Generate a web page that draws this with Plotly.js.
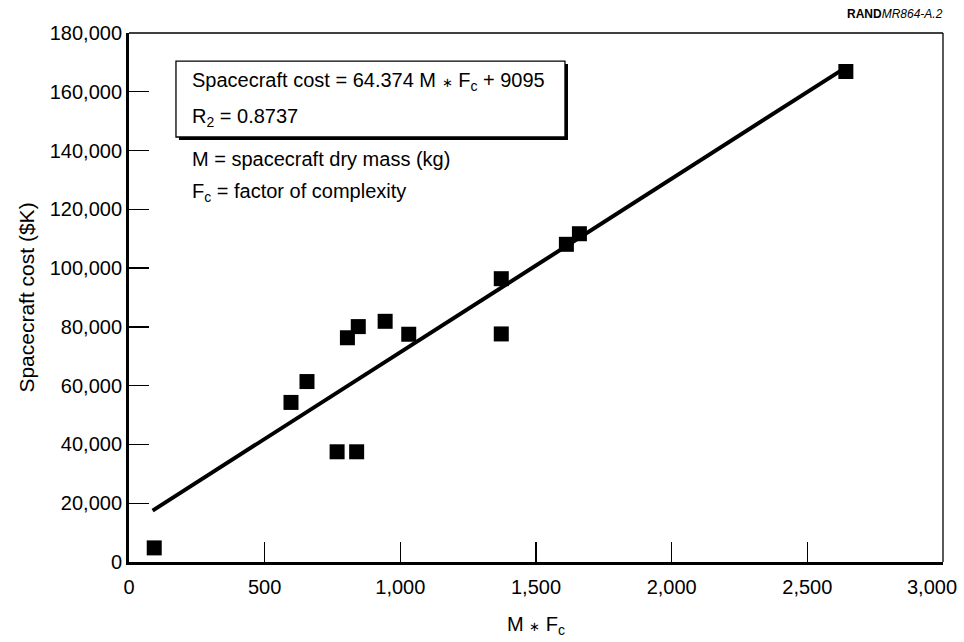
<!DOCTYPE html>
<html>
<head>
<meta charset="utf-8">
<script src="https://cdn.plot.ly/plotly-3.0.1.min.js"></script>
<style>html,body{margin:0;padding:0;background:#fff;}#chart{width:964px;height:642px;}</style>
</head>
<body>
<div id="chart"></div>
<script>
// Data
const massTimesFc = [93, 597, 656, 767, 839, 805, 845, 944, 1031, 1372, 1372, 1612, 1660, 2642];
const costK = [4800, 54300, 61400, 37500, 37500, 76300, 80100, 81900, 77500, 77600, 96400, 108100, 111700, 166900];
const fitX = [87, 2625];
const fitY = [17500, 167300];
const xTicks = [0, 500, 1000, 1500, 2000, 2500, 3000];
const xTickText = ["0", "500", "1,000", "1,500", "2,000", "2,500", ""];
const lastXTickText = "3,000";
const yTicks = [0, 20000, 40000, 60000, 80000, 100000, 120000, 140000, 160000, 180000];
const STAR = '<span style="font-size:13px">\u2217</span>';
const noteLines = [
  "Spacecraft cost = 64.374 M " + STAR + " F<sub>c</sub> + 9095",
  "R<sub>2</sub> = 0.8737",
  "M = spacecraft dry mass (kg)",
  "F<sub>c</sub> = factor of complexity"
];
const sourceLabel = "<b>RAND</b><i>MR864-A.2</i>";
const xTitle = "M " + STAR + " F<sub>c</sub>";
const yTitle = "Spacecraft cost ($K)";

const FONT = "Liberation Sans, Arial, Helvetica, sans-serif";

const traces = [
  {
    x: fitX, y: fitY, type: "scatter", mode: "lines",
    line: {color: "#000", width: 4}, hoverinfo: "skip", showlegend: false
  },
  {
    x: massTimesFc, y: costK, type: "scatter", mode: "markers",
    marker: {symbol: "square", size: 15, color: "#000"}, showlegend: false
  }
];

const noteY = [0.909, 0.841, 0.762, 0.699];
const annotations = noteLines.map((t, i) => ({
  text: t, xref: "paper", yref: "paper", x: 0.0749, y: noteY[i],
  xanchor: "left", yanchor: "middle", showarrow: false,
  font: {family: FONT, size: 20, color: "#000"}
}));
annotations.push({
  text: sourceLabel, xref: "paper", yref: "paper", x: 1.003, y: 1.036,
  xanchor: "right", yanchor: "middle", showarrow: false,
  font: {family: FONT, size: 12, color: "#000"}
});
annotations.push({
  text: lastXTickText, xref: "paper", yref: "paper", x: 0.9865, y: -0.0473,
  xanchor: "center", yanchor: "middle", showarrow: false,
  font: {family: FONT, size: 20, color: "#000"}
});

const layout = {
  width: 964, height: 642,
  margin: {l: 129, r: 21, t: 33, b: 80},
  paper_bgcolor: "#fff", plot_bgcolor: "#fff",
  font: {family: FONT, size: 20, color: "#000"},
  xaxis: {
    range: [0, 3000], tickvals: xTicks, ticktext: xTickText,
    ticks: "inside", ticklen: 20, tickwidth: 1.3, tickcolor: "#000",
    showline: true, linewidth: 3, linecolor: "#000",
    showgrid: false, zeroline: false, ticklabelstandoff: 5,
    tickfont: {family: FONT, size: 20, color: "#000"},
    title: {text: xTitle, font: {family: FONT, size: 20, color: "#000"}, standoff: 20}
  },
  yaxis: {
    range: [0, 180000], tickvals: yTicks, tickformat: ",d",
    ticks: "inside", ticklen: 20, tickwidth: 1.3, tickcolor: "#000",
    showline: true, linewidth: 3, linecolor: "#000",
    showgrid: false, zeroline: false,
    tickfont: {family: FONT, size: 20, color: "#000"},
    title: {text: yTitle, font: {family: FONT, size: 21, color: "#000"}, standoff: 10}
  },
  shapes: [
    {type: "line", xref: "paper", yref: "paper", x0: 0, x1: 1, y0: 1, y1: 1, line: {color: "#000", width: 1.3}},
    {type: "line", xref: "paper", yref: "paper", x0: 1, x1: 1, y0: 0, y1: 1, line: {color: "#000", width: 1.3}},
    {type: "rect", xref: "paper", yref: "paper", x0: 0.0614, x1: 0.5393, y0: 0.7977, y1: 0.9413, fillcolor: "#000", line: {width: 0}},
    {type: "rect", xref: "paper", yref: "paper", x0: 0.0577, x1: 0.5356, y0: 0.8034, y1: 0.947, fillcolor: "#fff", line: {color: "#000", width: 1.3}}
  ],
  annotations: annotations
};

Plotly.newPlot("chart", traces, layout, {displayModeBar: false, staticPlot: true});
</script>
</body>
</html>
